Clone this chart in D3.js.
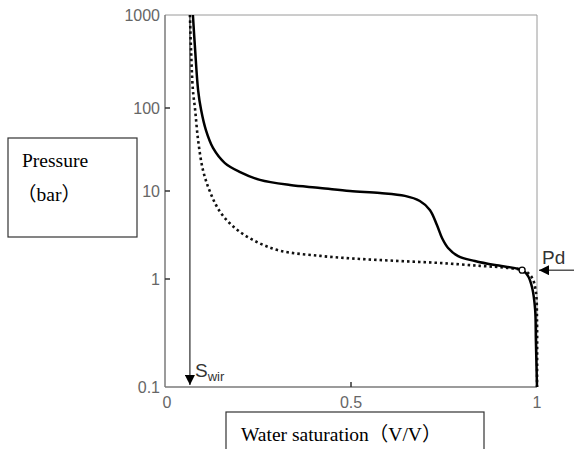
<!DOCTYPE html>
<html><head><meta charset="utf-8">
<script src="https://cdn.jsdelivr.net/npm/d3@7"></script>
<style>body{margin:0;background:#fff}svg{display:block}</style>
</head><body>
<svg id="c" width="574" height="449"></svg>
<script>
// ---- data ----
const yTicks = [0.1, 1, 10, 100, 1000];
const yTickLabels = ["0.1", "1", "10", "100", "1000"];
const xTicks = [0, 0.5, 1];
const xTickLabels = ["0", "0.5", "1"];
// Solid curve (Sw, P)
const solidSw = [0.075,0.081,0.089,0.097,0.110,0.129,0.161,0.202,0.255,0.336,0.417,0.497,0.578,0.645,0.685,0.712,0.731,0.745,0.761,0.788,0.833,0.887,0.941,0.960,0.976,0.987,0.995,0.997,1.0];
const solidP  = [1000,421,156,95,54,33,21.7,16.9,13.6,11.8,10.9,10,9.5,8.8,7.7,6.1,4.1,2.9,2.25,1.82,1.6,1.44,1.33,1.26,1.08,0.83,0.52,0.27,0.1];
// Dotted curve (Sw, P)
const dotSw = [0.067,0.070,0.075,0.081,0.089,0.102,0.121,0.148,0.188,0.242,0.309,0.417,0.524,0.632,0.739,0.847,0.927,0.968,0.987,0.997,1.0,1.0];
const dotP  = [1000,421,156,95,41,17.9,9.8,5.8,3.8,2.7,2.1,1.83,1.69,1.6,1.52,1.41,1.33,1.23,1.03,0.76,0.42,0.1];
const pdPoint = [0.960, 1.26];
const swir = 0.067;

// ---- scales ----
const svg = d3.select("#c");
const x = d3.scaleLinear().domain([0, 1]).range([165, 537]);
// log axis as drawn in the reference (decades not equally spaced)
const yl = d3.scaleLinear().domain([-1, 0, 1, 2, 3]).range([387, 279, 191, 108, 15]);
const y = v => yl(Math.log10(v));

const axisCol = "#7a7a7a", textCol = "#666";

// frame
svg.append("line").attr("x1", x(0)).attr("x2", x(1)).attr("y1", y(1000)).attr("y2", y(1000)).attr("stroke", "#9a9a9a").attr("stroke-width", 1);
svg.append("line").attr("x1", x(1)).attr("x2", x(1)).attr("y1", y(1000)).attr("y2", y(0.1)).attr("stroke", "#9a9a9a").attr("stroke-width", 1);
svg.append("line").attr("x1", x(0)).attr("x2", x(0)).attr("y1", y(1000)).attr("y2", y(0.1)).attr("stroke", axisCol).attr("stroke-width", 1.5);
svg.append("line").attr("x1", x(0)).attr("x2", x(1)).attr("y1", y(0.1)).attr("y2", y(0.1)).attr("stroke", axisCol).attr("stroke-width", 1.5);

// y ticks
yTicks.forEach((t, i) => {
  if (t !== 0.1 && t !== 1000)
    svg.append("line").attr("x1", x(0)).attr("x2", x(0) + 5).attr("y1", y(t)).attr("y2", y(t)).attr("stroke", "#333").attr("stroke-width", 1.5);
  svg.append("text").attr("x", x(0) - 5).attr("y", y(t)).attr("dy", "0.35em").attr("text-anchor", "end")
    .attr("font-family", "Liberation Sans, Arial, sans-serif").attr("font-size", 16).attr("fill", textCol).text(yTickLabels[i]);
});
// x ticks
xTicks.forEach((t, i) => {
  if (t === 0.5)
    svg.append("line").attr("x1", x(t)).attr("x2", x(t)).attr("y1", y(0.1)).attr("y2", y(0.1) - 5).attr("stroke", "#333").attr("stroke-width", 1.5);
  svg.append("text").attr("x", x(t) + (t === 0 ? 2 : 0)).attr("y", y(0.1) + 21).attr("text-anchor", "middle")
    .attr("font-family", "Liberation Sans, Arial, sans-serif").attr("font-size", 16).attr("fill", textCol).text(xTickLabels[i]);
});

// curves
const line = d3.line().x(d => x(d[0])).y(d => y(d[1])).curve(d3.curveCatmullRom.alpha(0.5));
const solid = solidSw.map((s, i) => [s, solidP[i]]);
const dotted = dotSw.map((s, i) => [s, dotP[i]]);
svg.append("path").attr("d", line(dotted)).attr("fill", "none").attr("stroke", "#111").attr("stroke-width", 2.6).attr("stroke-dasharray", "2.5,3");
svg.append("path").attr("d", line(solid)).attr("fill", "none").attr("stroke", "#000").attr("stroke-width", 2.5);
svg.append("circle").attr("cx", x(pdPoint[0])).attr("cy", y(pdPoint[1])).attr("r", 3).attr("fill", "#fff").attr("stroke", "#000").attr("stroke-width", 1.3);

// arrows
const defs = svg.append("defs");
defs.append("marker").attr("id", "ah").attr("viewBox", "0 0 10 10").attr("refX", 10).attr("refY", 5)
  .attr("markerWidth", 10).attr("markerHeight", 10).attr("markerUnits", "userSpaceOnUse").attr("orient", "auto")
  .append("path").attr("d", "M0,0 L10,5 L0,10 Z").attr("fill", "#000");
svg.append("line").attr("x1", x(swir)).attr("x2", x(swir)).attr("y1", y(1000)).attr("y2", 385).attr("stroke", "#000").attr("stroke-width", 1).attr("marker-end", "url(#ah)");
svg.append("line").attr("x1", 574).attr("x2", 539).attr("y1", y(pdPoint[1])).attr("y2", y(pdPoint[1])).attr("stroke", "#000").attr("stroke-width", 1).attr("marker-end", "url(#ah)");

const sw = svg.append("text").attr("x", 195).attr("y", 377).attr("font-family", "Liberation Sans, Arial, sans-serif").attr("font-size", 19).attr("fill", "#333");
sw.append("tspan").text("S");
sw.append("tspan").attr("font-size", 13).attr("dy", 4).text("wir");
svg.append("text").attr("x", 542).attr("y", 264).attr("font-family", "Liberation Sans, Arial, sans-serif").attr("font-size", 19).attr("fill", "#333").text("Pd");

// label boxes
const serif = "Liberation Serif, Times New Roman, Noto Sans CJK SC, serif";
svg.append("rect").attr("x", 8).attr("y", 138).attr("width", 129).attr("height", 99).attr("fill", "none").attr("stroke", "#333").attr("stroke-width", 1.2);
svg.append("text").attr("x", 22).attr("y", 167).attr("font-family", serif).attr("font-size", 19.5).attr("fill", "#000").text("Pressure");
svg.append("text").attr("x", 17).attr("y", 201).attr("font-family", serif).attr("font-size", 19.5).attr("fill", "#000").text("（bar）");
svg.append("rect").attr("x", 226).attr("y", 412).attr("width", 258).attr("height", 60).attr("fill", "none").attr("stroke", "#333").attr("stroke-width", 1.2);
svg.append("text").attr("x", 241).attr("y", 441).attr("font-family", serif).attr("font-size", 19.5).attr("fill", "#000").text("Water saturation（V/V）");
</script>
</body></html>
